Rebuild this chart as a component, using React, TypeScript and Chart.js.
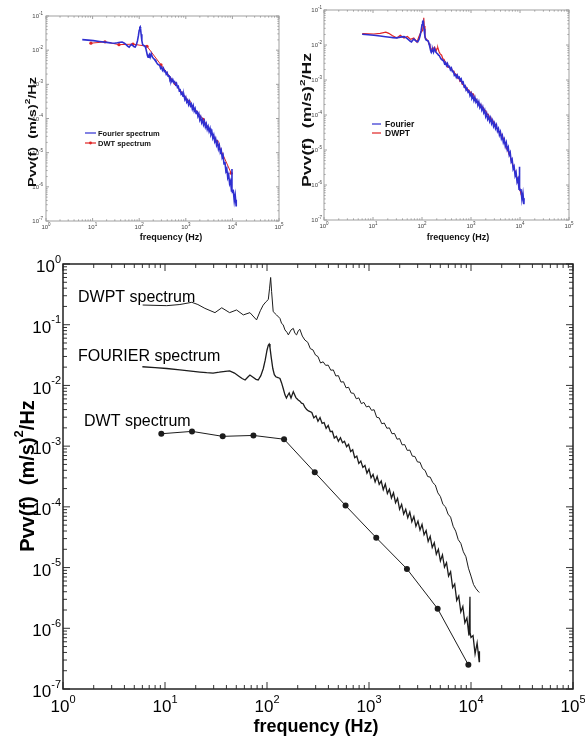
import React, { useEffect, useRef } from "react";
import { Chart, registerables } from "chart.js";

Chart.register(...registerables);

// ---------------- DATA ----------------
const FOURIER_HZ = [
  6.0, 8.0, 10.4, 14, 18, 22, 25.6, 29.6, 34, 39,
  43, 48, 53, 57, 61, 65, 68, 73, 78, 82,
  87, 92, 96, 100, 103, 105, 107, 110, 114, 118,
  122, 128, 134, 139, 144, 150, 155, 160, 165, 172,
  181, 192, 201, 210, 218, 226, 235, 245, 255,
  275, 288, 302, 316, 331, 347, 363, 380, 398, 417,
  437, 457, 479, 501, 525, 550, 575, 603, 631, 661,
  692, 724, 759, 794, 832, 871, 912, 955, 1000, 1047,
  1096, 1148, 1202, 1259, 1318, 1380, 1445, 1514, 1585, 1660,
  1738, 1820, 1905, 1995, 2089, 2188, 2291, 2399, 2512, 2630,
  2754, 2884, 3020, 3162, 3311, 3467, 3631, 3802, 3981, 4169,
  4365, 4571, 4786, 5012, 5248, 5495, 5754, 6026, 6310, 6607,
  6918, 7244, 7586, 7943, 8318, 8710, 9120, 9550, 9772, 9800,
  10000, 10471, 10965, 11482, 12023, 12100,
];
const FOURIER_PSD = [
  2.03e-2, 1.97e-2, 1.9e-2, 1.8e-2, 1.72e-2, 1.66e-2, 1.62e-2, 1.6e-2, 1.65e-2, 1.71e-2,
  1.73e-2, 1.6e-2, 1.42e-2, 1.3e-2, 1.23e-2, 1.38e-2, 1.48e-2, 1.36e-2, 1.26e-2, 1.23e-2,
  1.45e-2, 1.9e-2, 2.6e-2, 3.8e-2, 4.6e-2, 4.8e-2, 4.2e-2, 2.9e-2, 1.9e-2, 1.5e-2,
  1.39e-2, 1.35e-2, 1.3e-2, 1.1e-2, 9.0e-3, 7.0e-3, 6.2e-3, 6.9e-3, 7.5e-3, 6.2e-3,
  7.9e-3, 6.3e-3, 5.8e-3, 5.5e-3, 5.1e-3, 5.0e-3, 4.4e-3, 4.0e-3, 3.8e-3,
  3.59e-3, 2.92e-3, 3.16e-3, 2.57e-3, 2.95e-3, 2.37e-3, 2.45e-3, 1.97e-3, 2.19e-3, 1.74e-3,
  1.76e-3, 1.36e-3, 1.45e-3, 1.2e-3, 1.38e-3, 1.135e-3, 1.2e-3, 9.77e-4, 1.07e-3, 8.13e-4,
  8.71e-4, 6.46e-4, 6.84e-4, 5.19e-4, 5.69e-4, 4.47e-4, 4.79e-4, 3.59e-4, 4.17e-4, 3.02e-4,
  3.43e-4, 2.57e-4, 3.16e-4, 2.34e-4, 2.66e-4, 1.91e-4, 2.37e-4, 1.66e-4, 1.95e-4, 1.4e-4,
  1.7e-4, 1.17e-4, 1.38e-4, 9.12e-5, 1.1e-4, 7.59e-5, 9.12e-5, 6.61e-5, 8.22e-5, 5.69e-5,
  6.92e-5, 4.79e-5, 5.82e-5, 4.17e-5, 5.13e-5, 3.47e-5, 4.07e-5, 2.69e-5, 3.27e-5, 2.14e-5,
  2.57e-5, 1.66e-5, 2.0e-5, 1.29e-5, 1.62e-5, 1.02e-5, 1.2e-5, 7.24e-6, 8.51e-6, 4.68e-6,
  5.37e-6, 2.88e-6, 3.39e-6, 1.86e-6, 2.29e-6, 1.23e-6, 1.48e-6, 7.59e-7, 3.3e-6, 8.5e-7,
  7.08e-7, 7.59e-7, 3.8e-7, 5.75e-7, 2.82e-7, 4.2e-7,
];

// DWPT spectrum as plotted in the main panel (shifted up x10 there)
const DWPT_HZ = [
  6.04, 10.4, 14, 18.3, 21, 24.6, 30.9, 36, 43, 50.3,
  58.6, 68, 79, 86, 91.7, 98, 103, 106, 108.6, 111,
  115, 124, 134, 139, 144, 150, 157, 162, 172, 181,
  188, 195, 203, 210, 222, 235,
  251, 266, 282, 299, 316, 335, 355, 376, 398, 422,
  447, 473, 501, 531, 562, 596, 631, 668, 708, 750,
  794, 841, 891, 944, 1000, 1059, 1122, 1189, 1259, 1334,
  1413, 1496, 1585, 1679, 1778, 1884, 1995, 2113, 2239, 2371,
  2512, 2661, 2818, 2985, 3162, 3350, 3548, 3758, 3981, 4217,
  4467, 4732, 5012, 5309, 5623, 5957, 6310, 6683, 7079, 7499,
  7943, 8414, 8913, 9441, 10000, 10593, 11220, 11885, 12100,
];
const DWPT_PSD_MAIN = [
  0.211, 0.206, 0.215, 0.234, 0.215, 0.186, 0.158, 0.19, 0.158, 0.175,
  0.145, 0.158, 0.12, 0.17, 0.21, 0.24, 0.26, 0.4, 0.6, 0.35,
  0.164, 0.145, 0.127, 0.105, 0.1, 0.082, 0.075, 0.068, 0.082, 0.087,
  0.072, 0.068, 0.08, 0.084, 0.065, 0.056,
  5.13e-2, 4.03e-2, 3.85e-2, 3.16e-2, 2.99e-2, 2.34e-2, 2.45e-2, 2.14e-2, 2.16e-2, 1.78e-2,
  1.8e-2, 1.43e-2, 1.45e-2, 1.135e-2, 1.15e-2, 9.12e-3, 9.33e-3, 7.5e-3, 7.41e-3, 6.03e-3,
  6.24e-3, 5.01e-3, 5.25e-3, 4.42e-3, 4.57e-3, 3.89e-3, 3.98e-3, 2.99e-3, 2.92e-3, 2.34e-3,
  2.4e-3, 1.97e-3, 2.0e-3, 1.6e-3, 1.62e-3, 1.3e-3, 1.33e-3, 1.05e-3, 1.06e-3, 8.51e-4,
  8.61e-4, 6.84e-4, 6.76e-4, 5.5e-4, 5.43e-4, 4.27e-4, 3.98e-4, 3.16e-4, 3.09e-4, 2.51e-4,
  2.29e-4, 1.7e-4, 1.48e-4, 1.1e-4, 1.0e-4, 7.59e-5, 6.76e-5, 4.79e-5, 3.98e-5, 2.88e-5,
  2.51e-5, 1.82e-5, 1.51e-5, 9.77e-6, 7.24e-6, 5.25e-6, 4.47e-6, 3.98e-6, 3.9e-6,
];

// DWT spectrum as plotted in the main panel (shifted down x10 there)
const DWT_HZ = [9.2, 18.4, 36.8, 73.6, 147, 294, 589, 1178, 2355, 4710, 9421];
const DWT_PSD_MAIN = [1.6e-3, 1.75e-3, 1.45e-3, 1.5e-3, 1.3e-3, 3.7e-4, 1.05e-4, 3.1e-5, 9.5e-6, 2.1e-6, 2.5e-7];

// display offsets between the main panel and the two small panels
const DWPT_TOP_FACTOR = 0.1;
const DWT_TOP_FACTOR = 10;

// axis tick exponents
const X_EXPONENTS = [0, 1, 2, 3, 4, 5];
const Y_EXPONENTS_MAIN = [0, -1, -2, -3, -4, -5, -6, -7];
const Y_EXPONENTS_TOP = [-1, -2, -3, -4, -5, -6, -7];

// ---------------- drawing helpers ----------------
const FAMILY = '"Liberation Sans", Arial, Helvetica, sans-serif';
const BLUE = "#2f2fd0";
const RED = "#e02424";
const INK = "#1c1c1c";

type Seg = { t: string; sup?: boolean };
type TextSpec = {
  segs: Seg[];
  x: number;
  y: number;
  size: number;
  supSize?: number;
  weight?: string;
  align?: "left" | "center" | "right";
  color?: string;
  rotate?: boolean;
  length?: number;
};

function drawRich(ctx: CanvasRenderingContext2D, s: TextSpec) {
  const sup = s.supSize ?? s.size * 0.65;
  const w = s.weight ?? "normal";
  const fonts = s.segs.map((g) => `${w} ${g.sup ? sup : s.size}px ${FAMILY}`);
  const widths = s.segs.map((g, i) => {
    ctx.font = fonts[i];
    return ctx.measureText(g.t).width;
  });
  const total = widths.reduce((a, b) => a + b, 0);
  ctx.save();
  ctx.translate(s.x, s.y);
  if (s.rotate) ctx.rotate(-Math.PI / 2);
  if (s.length) ctx.scale(s.length / total, 1);
  let cx = s.align === "center" ? -total / 2 : s.align === "right" ? -total : 0;
  const base = s.size * 0.36;
  ctx.fillStyle = s.color ?? "#000";
  ctx.textAlign = "left";
  ctx.textBaseline = "alphabetic";
  s.segs.forEach((g, i) => {
    ctx.font = fonts[i];
    ctx.fillText(g.t, cx, g.sup ? base - s.size * 0.55 : base);
    cx += widths[i];
  });
  ctx.restore();
}

type LegendItem = { x1: number; x2: number; y: number; color: string; marker?: boolean; text: string; tx: number; size: number; weight: string };

type FrameCfg = {
  yExps: number[];
  frameColor: string;
  frameWidth: number;
  tickColor: string;
  tickWidth: number;
  major: number;
  minor: number;
  tickSize: number;
  tickSup: number;
  labelColor: string;
  yLabelRight: number;
  yLabelDy: number;
  xLabelY: number;
  texts: TextSpec[];
  legend?: LegendItem[];
};

function framePlugin(c: FrameCfg) {
  return {
    id: "logFrame",
    afterDatasetsDraw(chart: any) {
      const ctx: CanvasRenderingContext2D = chart.ctx;
      const a = chart.chartArea;
      const xs = chart.scales.x;
      const ys = chart.scales.y;
      ctx.save();
      // tick marks (inward, all four sides)
      ctx.strokeStyle = c.tickColor;
      ctx.lineWidth = c.tickWidth;
      ctx.beginPath();
      X_EXPONENTS.forEach((e, i) => {
        const last = i === X_EXPONENTS.length - 1;
        for (let m = 1; m <= (last ? 1 : 9); m++) {
          const p = xs.getPixelForValue(m * Math.pow(10, e));
          const len = m === 1 ? c.major : c.minor;
          ctx.moveTo(p, a.bottom);
          ctx.lineTo(p, a.bottom - len);
          ctx.moveTo(p, a.top);
          ctx.lineTo(p, a.top + len);
        }
      });
      const ye = [...c.yExps].sort((p, q) => p - q);
      ye.forEach((e, i) => {
        const last = i === ye.length - 1;
        for (let m = 1; m <= (last ? 1 : 9); m++) {
          const p = ys.getPixelForValue(m * Math.pow(10, e));
          const len = m === 1 ? c.major : c.minor;
          ctx.moveTo(a.left, p);
          ctx.lineTo(a.left + len, p);
          ctx.moveTo(a.right, p);
          ctx.lineTo(a.right - len, p);
        }
      });
      ctx.stroke();
      // frame
      ctx.strokeStyle = c.frameColor;
      ctx.lineWidth = c.frameWidth;
      ctx.strokeRect(a.left, a.top, a.right - a.left, a.bottom - a.top);
      // tick labels
      X_EXPONENTS.forEach((e) => {
        drawRich(ctx, {
          segs: [{ t: "10" }, { t: String(e), sup: true }],
          x: xs.getPixelForValue(Math.pow(10, e)),
          y: c.xLabelY,
          size: c.tickSize,
          supSize: c.tickSup,
          align: "center",
          color: c.labelColor,
        });
      });
      c.yExps.forEach((e) => {
        drawRich(ctx, {
          segs: [{ t: "10" }, { t: String(e), sup: true }],
          x: c.yLabelRight,
          y: ys.getPixelForValue(Math.pow(10, e)) + c.yLabelDy,
          size: c.tickSize,
          supSize: c.tickSup,
          align: "right",
          color: c.labelColor,
        });
      });
      // titles / annotations
      c.texts.forEach((t) => drawRich(ctx, t));
      // legend
      (c.legend ?? []).forEach((l) => {
        ctx.strokeStyle = l.color;
        ctx.lineWidth = 1.2;
        ctx.beginPath();
        ctx.moveTo(l.x1, l.y);
        ctx.lineTo(l.x2, l.y);
        ctx.stroke();
        if (l.marker) {
          ctx.fillStyle = l.color;
          ctx.beginPath();
          ctx.arc((l.x1 + l.x2) / 2, l.y, 1.4, 0, Math.PI * 2);
          ctx.fill();
        }
        drawRich(ctx, { segs: [{ t: l.text }], x: l.tx, y: l.y, size: l.size, weight: l.weight, color: "#111" });
      });
      ctx.restore();
    },
  };
}

function pts(xs: number[], ys: number[], factor = 1) {
  return xs.map((x, i) => ({ x, y: ys[i] * factor }));
}

function lineSet(data: any[], color: string, width: number, radius = 0) {
  return {
    data,
    showLine: true,
    borderColor: color,
    borderWidth: width,
    pointRadius: radius,
    pointBackgroundColor: color,
    pointBorderWidth: 0,
    pointHoverRadius: 0,
    tension: 0,
    fill: false,
  };
}

function makeConfig(datasets: any[], pad: { left: number; top: number; right: number; bottom: number }, yMin: number, yMax: number, frame: FrameCfg): any {
  return {
    type: "scatter",
    data: { datasets },
    options: {
      responsive: false,
      animation: false,
      events: [],
      layout: { padding: pad, autoPadding: false },
      plugins: { legend: { display: false }, tooltip: { enabled: false } },
      scales: {
        x: { type: "logarithmic", min: 1, max: 1e5, display: false },
        y: { type: "logarithmic", min: yMin, max: yMax, display: false },
      },
    },
    plugins: [framePlugin(frame)],
  };
}

const YTITLE: Seg[] = [{ t: "Pvv(f)  (m/s)" }, { t: "2", sup: true }, { t: "/Hz" }];

function ChartCanvas(props: { left: number; top: number; width: number; height: number; make: () => any }) {
  const ref = useRef<HTMLCanvasElement>(null);
  useEffect(() => {
    const chart = new Chart(ref.current as HTMLCanvasElement, props.make());
    return () => chart.destroy();
  }, []);
  return (
    <canvas
      ref={ref}
      width={props.width}
      height={props.height}
      style={{ position: "absolute", left: props.left, top: props.top, width: props.width, height: props.height }}
    />
  );
}

const topFrameBase = {
  frameColor: "#a0a0a0",
  frameWidth: 1,
  tickColor: "#a0a0a0",
  tickWidth: 1,
  major: 3,
  minor: 1.6,
  tickSize: 6,
  tickSup: 4.5,
  labelColor: "#444",
  yLabelDy: 0,
};

function makeTopLeft() {
  return makeConfig(
    [
      lineSet(pts(FOURIER_HZ, FOURIER_PSD), BLUE, 1.6),
      lineSet(pts(DWT_HZ, DWT_PSD_MAIN, DWT_TOP_FACTOR), RED, 1, 1.6),
    ],
    { left: 46, top: 16, right: 13, bottom: 24 },
    1e-7,
    1e-1,
    {
      ...topFrameBase,
      yExps: Y_EXPONENTS_TOP,
      yLabelRight: 43,
      xLabelY: 227,
      texts: [
        { segs: [{ t: "frequency (Hz)" }], x: 171, y: 237, size: 9, weight: "bold", align: "center", color: "#111" },
        { segs: YTITLE, x: 32, y: 132, size: 10, supSize: 7, weight: "bold", align: "center", rotate: true, length: 110, color: "#111" },
      ],
      legend: [
        { x1: 85, x2: 96, y: 133, color: BLUE, text: "Fourier spectrum", tx: 98, size: 7.5, weight: "bold" },
        { x1: 85, x2: 96, y: 143, color: RED, marker: true, text: "DWT spectrum", tx: 98, size: 7.5, weight: "bold" },
      ],
    }
  );
}

function makeTopRight() {
  return makeConfig(
    [
      lineSet(pts(FOURIER_HZ, FOURIER_PSD), BLUE, 1.6),
      lineSet(pts(DWPT_HZ, DWPT_PSD_MAIN, DWPT_TOP_FACTOR), RED, 1.2),
    ],
    { left: 32, top: 10, right: 16, bottom: 25 },
    1e-7,
    1e-1,
    {
      ...topFrameBase,
      yExps: Y_EXPONENTS_TOP,
      yLabelRight: 30,
      xLabelY: 226,
      texts: [
        { segs: [{ t: "frequency (Hz)" }], x: 166, y: 237, size: 9, weight: "bold", align: "center", color: "#111" },
        { segs: YTITLE, x: 15, y: 120, size: 12, supSize: 8, weight: "bold", align: "center", rotate: true, length: 134, color: "#111" },
      ],
      legend: [
        { x1: 80, x2: 89, y: 124, color: BLUE, text: "Fourier", tx: 93, size: 8.5, weight: "bold" },
        { x1: 80, x2: 89, y: 133, color: RED, text: "DWPT", tx: 93, size: 8.5, weight: "bold" },
      ],
    }
  );
}

function makeMain() {
  return makeConfig(
    [
      lineSet(pts(DWPT_HZ, DWPT_PSD_MAIN), INK, 1),
      lineSet(pts(FOURIER_HZ, FOURIER_PSD), INK, 1.3),
      lineSet(pts(DWT_HZ, DWT_PSD_MAIN), INK, 1, 3),
    ],
    { left: 63, top: 19, right: 12, bottom: 50 },
    1e-7,
    1,
    {
      yExps: Y_EXPONENTS_MAIN,
      frameColor: "#222",
      frameWidth: 1.5,
      tickColor: "#333",
      tickWidth: 1,
      major: 7,
      minor: 4,
      tickSize: 17,
      tickSup: 11,
      labelColor: "#000",
      yLabelRight: 61,
      yLabelDy: 2,
      xLabelY: 461,
      texts: [
        { segs: [{ t: "frequency (Hz)" }], x: 316, y: 481, size: 18, weight: "bold", align: "center", color: "#000" },
        { segs: YTITLE, x: 27, y: 231, size: 20, supSize: 13, weight: "bold", align: "center", rotate: true, color: "#000" },
        { segs: [{ t: "DWPT spectrum" }], x: 78, y: 51, size: 16, color: "#000" },
        { segs: [{ t: "FOURIER spectrum" }], x: 78, y: 110, size: 16, color: "#000" },
        { segs: [{ t: "DWT spectrum" }], x: 84, y: 175, size: 16, color: "#000" },
      ],
    }
  );
}

export default function App() {
  return (
    <div style={{ position: "absolute", left: 0, top: 0, width: 585, height: 739, background: "#fff", overflow: "hidden" }}>
      <ChartCanvas left={0} top={0} width={292} height={245} make={makeTopLeft} />
      <ChartCanvas left={292} top={0} width={293} height={245} make={makeTopRight} />
      <ChartCanvas left={0} top={245} width={585} height={494} make={makeMain} />
    </div>
  );
}
